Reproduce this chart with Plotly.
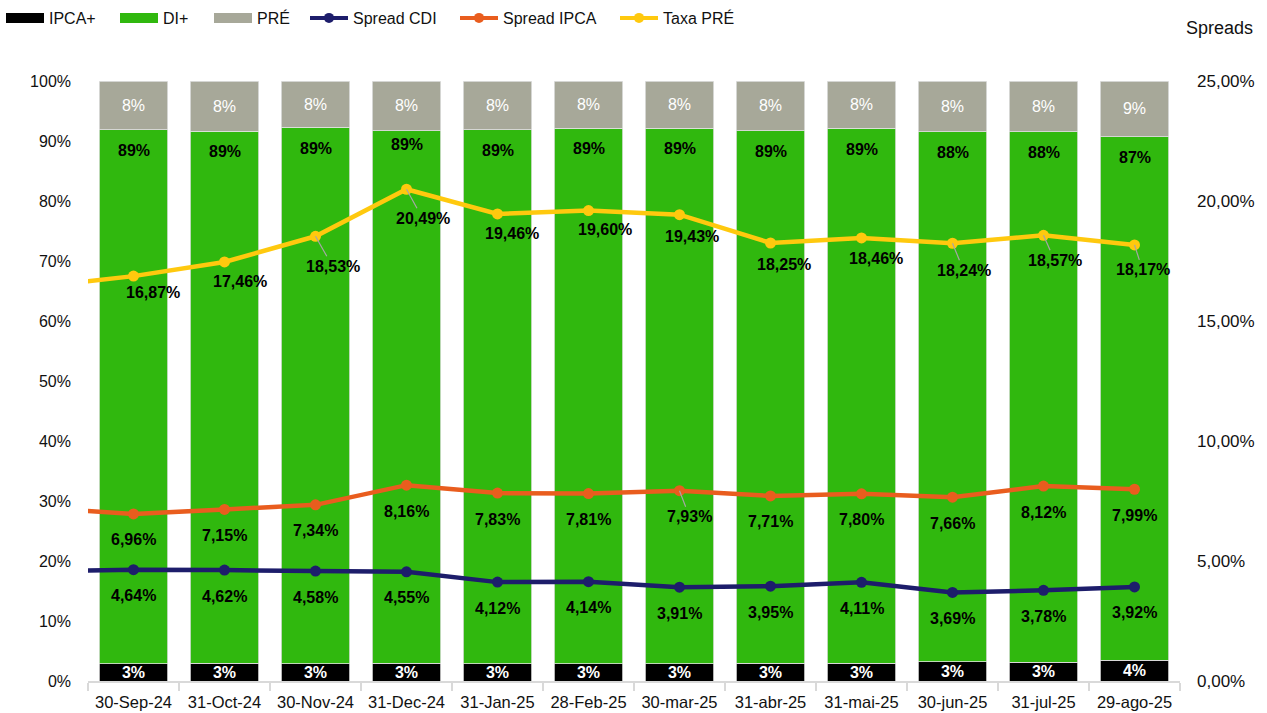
import plotly.graph_objects as go

categories = ["30-Sep-24", "31-Oct-24", "30-Nov-24", "31-Dec-24", "31-Jan-25", "28-Feb-25",
              "30-mar-25", "31-abr-25", "31-mai-25", "30-jun-25", "31-jul-25", "29-ago-25"]

ipca_plus = [2.9, 3.0, 2.9, 3.0, 2.9, 2.9, 2.9, 3.0, 3.0, 3.2, 3.1, 3.5]
di_plus = [89.0, 88.6, 89.4, 88.7, 89.0, 89.2, 89.2, 88.7, 89.1, 88.35, 88.45, 87.2]
pre = [8.1, 8.4, 7.7, 8.3, 8.1, 7.9, 7.9, 8.3, 7.9, 8.45, 8.45, 9.3]

spread_cdi = [4.64, 4.62, 4.58, 4.55, 4.12, 4.14, 3.91, 3.95, 4.11, 3.69, 3.78, 3.92]
spread_ipca = [6.96, 7.15, 7.34, 8.16, 7.83, 7.81, 7.93, 7.71, 7.80, 7.66, 8.12, 7.99]
taxa_pre = [16.87, 17.46, 18.53, 20.49, 19.46, 19.60, 19.43, 18.25, 18.46, 18.24, 18.57, 18.17]

# values of the month before the first category (lines enter from the left edge)
prev_spread_cdi = 4.56
prev_spread_ipca = 7.21
prev_taxa_pre = 16.45

left_ticks = [0, 10, 20, 30, 40, 50, 60, 70, 80, 90, 100]
right_ticks = [0, 5, 10, 15, 20, 25]

# ---- styles ----
FONT = "Liberation Sans"
C_BLACK = "#000000"
C_GREEN = "#30B80E"
C_GREY = "#A7A899"
C_NAVY = "#1D1D6B"
C_ORANGE = "#E95D1E"
C_YELLOW = "#FFC90E"

xs = list(range(len(categories)))
xs_line = [-1] + xs

# label offsets (pixels) for line labels, and leader-line flags
taxa_off = [(19, 16), (15, 20), (17, 30), (16, 29), (14, 20), (16, 19), (12, 22), (13, 21),
            (14, 21), (11, 27), (11, 25), (8, 25)]
taxa_leader = [False, False, True, True, False, False, False, False, False, True, True, True]
ipca_off = [(0, 26)] * 6 + [(10, 26)] + [(0, 26)] * 5
ipca_leader = [False] * 6 + [True] + [False] * 5
cdi_off = [(0, 26)] * 12
green_label_shift = [21, 20, 21, 14, 21, 20, 20, 21, 21, 21, 21, 21]

fig = go.Figure()

bar_line = dict(color="rgba(225,225,225,1)", width=0.8)
fig.add_trace(go.Bar(x=xs, y=ipca_plus, marker=dict(color=C_BLACK, line=bar_line),
                     texttemplate="%{y:.0f}%", textposition="inside", insidetextanchor="middle",
                     constraintext="none",
                     textfont=dict(family=FONT, size=16, color="white", weight="bold"),
                     showlegend=False, hoverinfo="skip"))
fig.add_trace(go.Bar(x=xs, y=di_plus, marker=dict(color=C_GREEN, line=bar_line),
                     showlegend=False, hoverinfo="skip"))
fig.add_trace(go.Bar(x=xs, y=pre, marker=dict(color=C_GREY, line=bar_line),
                     texttemplate="%{y:.0f}%", textposition="inside", insidetextanchor="middle",
                     constraintext="none",
                     textfont=dict(family=FONT, size=16, color="white"),
                     showlegend=False, hoverinfo="skip"))

def add_line(vals, prev, color):
    fig.add_trace(go.Scatter(x=xs_line, y=[prev] + vals, yaxis="y2", mode="lines+markers",
                             line=dict(color=color, width=4.5),
                             marker=dict(color=color, size=11),
                             showlegend=False, hoverinfo="skip", cliponaxis=True))

add_line(spread_cdi, prev_spread_cdi, C_NAVY)
add_line(spread_ipca, prev_spread_ipca, C_ORANGE)
add_line(taxa_pre, prev_taxa_pre, C_YELLOW)

# legend entries (one legend each, placed along the top)
legend_items = [
    ("IPCA+", C_BLACK, "lines", 6),
    ("DI+", C_GREEN, "lines", 120),
    ("PRÉ", C_GREY, "lines", 214),
    ("Spread CDI", C_NAVY, "lines+markers", 310),
    ("Spread IPCA", C_ORANGE, "lines+markers", 460),
    ("Taxa PRÉ", C_YELLOW, "lines+markers", 620),
]
legend_layouts = {}
for i, (name, color, mode, px) in enumerate(legend_items):
    key = "legend" if i == 0 else f"legend{i + 1}"
    if mode == "lines":
        fig.add_trace(go.Scatter(x=[None], y=[None], mode="lines", name=name,
                                 line=dict(color=color, width=10), legend=key))
    else:
        fig.add_trace(go.Scatter(x=[None], y=[None], mode="lines+markers", name=name, yaxis="y2",
                                 line=dict(color=color, width=4), marker=dict(color=color, size=10),
                                 legend=key))
    legend_layouts[key] = dict(x=(px - 5) / 1267, xref="container", xanchor="left",
                               y=1 - 18 / 713, yref="container", yanchor="middle",
                               orientation="h", itemwidth=38, bgcolor="rgba(0,0,0,0)",
                               font=dict(family=FONT, size=16, color="#111111"),
                               tracegroupgap=0, borderwidth=0)

annotations = []
# green bar labels near the top of the green segment
for i in xs:
    annotations.append(dict(x=i, y=ipca_plus[i] + di_plus[i], xref="x", yref="y",
                            text=f"{round(di_plus[i]):.0f}%", showarrow=False,
                            yshift=-green_label_shift[i], yanchor="middle",
                            font=dict(family=FONT, size=16, color="#000000", weight="bold")))

def fmt(v):
    return f"{v:.2f}".replace(".", ",") + "%"

def add_line_labels(vals, offs, leaders):
    for i, v in enumerate(vals):
        dx, dy = offs[i]
        annotations.append(dict(x=i, y=v, xref="x", yref="y2", text=fmt(v),
                                showarrow=True, arrowhead=0, arrowwidth=1.2, standoff=0,
                                arrowcolor="#A6A6A6" if leaders[i] else "rgba(0,0,0,0)",
                                ax=dx, ay=dy, axref="pixel", ayref="pixel",
                                font=dict(family=FONT, size=16, color="#000000", weight="bold")))

add_line_labels(taxa_pre, taxa_off, taxa_leader)
add_line_labels(spread_ipca, ipca_off, ipca_leader)
add_line_labels(spread_cdi, cdi_off, [False] * 12)

annotations.append(dict(x=(1219 - 88) / 1092, y=1 + (81 - 28) / 600, xref="paper", yref="paper",
                        text="Spreads", showarrow=False, xanchor="center", yanchor="middle",
                        font=dict(family=FONT, size=18, color="#111111")))

fig.update_layout(
    width=1267, height=713,
    margin=dict(l=88, r=87, t=81, b=32, autoexpand=False),
    paper_bgcolor="white", plot_bgcolor="white",
    barmode="stack", bargap=0.245,
    separators=",.",
    font=dict(family=FONT, size=16, color="#111111"),
    xaxis=dict(range=[-0.5, 11.5], tickmode="array", tickvals=xs, ticktext=categories,
               automargin=False,
               showgrid=False, zeroline=False, showline=True, linecolor="#D9D9D9", linewidth=1.5,
               ticks="", ticklabelstandoff=5, tickfont=dict(family=FONT, size=16.5, color="#111111"),
               minor=dict(tickmode="array", tickvals=[i - 0.5 for i in range(13)],
                          ticks="outside", ticklen=8, tickcolor="#D9D9D9", tickwidth=1.5,
                          showgrid=False)),
    yaxis=dict(range=[0, 100], tickmode="array", tickvals=left_ticks, automargin=False,
               ticktext=[f"{t}%" for t in left_ticks], showgrid=False, zeroline=False,
               showline=False, ticks="", ticklabelstandoff=16,
               tickfont=dict(family=FONT, size=16, color="#111111")),
    yaxis2=dict(range=[0, 25], overlaying="y", side="right", tickmode="array", automargin=False,
                tickvals=right_ticks, ticktext=[fmt(t) for t in right_ticks],
                showgrid=False, zeroline=False, showline=False, ticks="", ticklabelstandoff=16,
                tickfont=dict(family=FONT, size=17, color="#111111")),
    annotations=annotations,
    **legend_layouts,
)

fig.write_html("out.html", config={"displayModeBar": False},
               post_script="document.body.style.margin='0';")
